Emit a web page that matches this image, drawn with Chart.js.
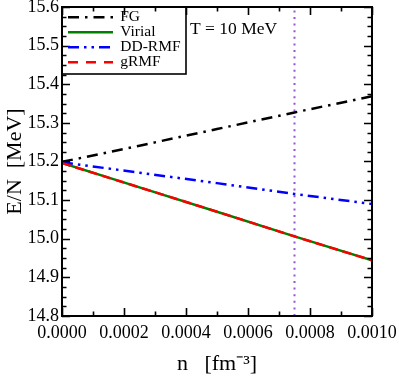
<!DOCTYPE html>
<html>
<head>
<meta charset="utf-8">
<script src="https://cdn.jsdelivr.net/npm/chart.js@4/dist/chart.umd.min.js"></script>
<style>
html,body{margin:0;padding:0;background:#fff;}
#wrap{width:399px;height:379px;}
</style>
</head>
<body>
<div id="wrap"><canvas id="c" width="399" height="379"></canvas></div>
<script>
// ---- data ----
const densities = [0, 0.00025, 0.0005, 0.00075, 0.001];
const fgValues = [15.199, 15.241, 15.284, 15.327, 15.369];
const virialValues = [15.196, 15.133, 15.070, 15.006, 14.944];
const ddrmfValues = [15.198, 15.171, 15.144, 15.116, 15.090];
const grmfValues = [15.196, 15.133, 15.070, 15.006, 14.944];
const markerDensity = 0.00075;
const yRange = [14.8, 15.6];
const xRange = [0, 0.001];
const seriesLabels = ['FG', 'Virial', 'DD-RMF', 'gRMF'];
const annotationText = 'T = 10 MeV';

const serif = "'Liberation Serif','Times New Roman',serif";
const legendFont = 15.5;
const legendPad = -0.5;
const rowStep = legendFont + legendPad;
const pts = (vals) => densities.map((x, i) => ({x: x, y: vals[i]}));

const tickPlugin = {
  id: 'frameTicks',
  afterLayout(chart) {
    const lg = chart.legend;
    const ca = chart.chartArea;
    lg.left = ca.left + 6;
    lg.top = ca.top + 3;
  },
  afterDraw(chart) {
    const ctx = chart.ctx;
    const ca = chart.chartArea;
    const xs = chart.scales.x, ys = chart.scales.y;
    ctx.save();
    ctx.strokeStyle = '#000';
    ctx.lineWidth = 1.6;
    for (let i = 0; i <= 10; i++) {
      const px = Math.round(xs.getPixelForValue(i * 0.0001)) + 0.5;
      const len = (i % 2 === 0) ? 8 : 4.5;
      ctx.beginPath();
      ctx.moveTo(px, ca.bottom); ctx.lineTo(px, ca.bottom - len);
      ctx.moveTo(px, ca.top); ctx.lineTo(px, ca.top + len);
      ctx.stroke();
    }
    for (let i = 0; i <= 32; i++) {
      const py = Math.round(ys.getPixelForValue(14.8 + i * 0.025)) + 0.5;
      const len = (i % 4 === 0) ? 8 : 4.5;
      ctx.beginPath();
      ctx.moveTo(ca.left, py); ctx.lineTo(ca.left + len, py);
      ctx.moveTo(ca.right, py); ctx.lineTo(ca.right - len, py);
      ctx.stroke();
    }
    ctx.lineWidth = 2;
    ctx.strokeRect(ca.left, ca.top, ca.right - ca.left, ca.bottom - ca.top);
    // legend samples (dashed), using each dataset's own style
    const lg = chart.legend;
    const items = lg.legendItems || [];
    items.forEach((it, k) => {
      const ds = chart.data.datasets[it.datasetIndex];
      const y = lg.top + legendPad + k * rowStep + legendFont / 2;
      ctx.beginPath();
      ctx.setLineDash(ds.legendDash || ds.borderDash || []);
      ctx.lineWidth = ds.borderWidth;
      ctx.strokeStyle = ds.borderColor;
      ctx.moveTo(lg.left, y);
      ctx.lineTo(lg.left + 45, y);
      ctx.stroke();
    });
    ctx.setLineDash([]);
    ctx.strokeStyle = '#000';
    ctx.lineWidth = 1.6;
    ctx.strokeRect(ca.left, ca.top, 186 - ca.left, 74 - ca.top);
    ctx.fillStyle = '#000';
    ctx.font = '17.5px ' + serif;
    ctx.textBaseline = 'alphabetic';
    ctx.fillText(annotationText, 190, 34);
    ctx.restore();
  }
};

new Chart(document.getElementById('c'), {
  type: 'line',
  data: {
    datasets: [
      {label: seriesLabels[0], data: pts(fgValues), borderColor: '#000', borderWidth: 2.5, borderDash: [11, 6, 2.5, 6], order: 3},
      {label: seriesLabels[1], data: pts(virialValues), borderColor: '#008000', borderWidth: 2.5, order: 2},
      {label: seriesLabels[2], data: pts(ddrmfValues), borderColor: '#0000ff', borderWidth: 2.5, borderDash: [11, 5, 2.5, 5, 2.5, 5], order: 1},
      {label: seriesLabels[3], data: pts(grmfValues), borderColor: '#ff0000', borderWidth: 2.5, borderDash: [9, 5], legendDash: [10, 8], order: 0},
      {label: '', data: [{x: markerDensity, y: yRange[0]}, {x: markerDensity, y: yRange[1]}], borderColor: 'rgb(150,85,215)', borderWidth: 2, borderDash: [2, 4.6], order: 4}
    ]
  },
  options: {
    responsive: false,
    animation: false,
    devicePixelRatio: 1,
    layout: {padding: {left: 0, right: 27, top: 7, bottom: 0}},
    elements: {point: {radius: 0}, line: {tension: 0, fill: false}},
    plugins: {
      tooltip: {enabled: false},
      legend: {
        position: 'chartArea',
        align: 'start',
        labels: {
          filter: (item) => item.text !== '',
          sort: (a, b) => a.datasetIndex - b.datasetIndex,
          generateLabels: (chart) => Chart.defaults.plugins.legend.labels.generateLabels(chart).map(l => Object.assign(l, {strokeStyle: 'rgba(0,0,0,0)', fillStyle: 'rgba(0,0,0,0)'})),
          usePointStyle: true,
          pointStyle: 'line',
          pointStyleWidth: 45,
          boxHeight: 6,
          padding: legendPad,
          color: '#000',
          font: {family: serif, size: legendFont, lineHeight: 1}
        }
      }
    },
    scales: {
      x: {
        type: 'linear',
        min: xRange[0], max: xRange[1],
        afterFit: (s) => { s.height = 63; s.paddingLeft = 0; s.paddingRight = 0; },
        grid: {display: false, drawTicks: false},
        border: {display: false},
        ticks: {
          stepSize: 0.0002,
          padding: 6,
          color: '#000',
          maxRotation: 0,
          font: {family: serif, size: 18},
          callback: (v) => Number(v).toFixed(4)
        },
        title: {display: true, text: 'n   [fm\u207B\u00B3]', color: '#000', font: {family: serif, size: 22}, padding: {top: 0, bottom: 2}}
      },
      y: {
        type: 'linear',
        min: yRange[0], max: yRange[1],
        afterFit: (s) => { s.width = 62; s.paddingTop = 0; s.paddingBottom = 0; },
        grid: {display: false, drawTicks: false},
        border: {display: false},
        ticks: {
          stepSize: 0.1,
          padding: 3,
          color: '#000',
          font: {family: serif, size: 18},
          callback: (v) => Number(v).toFixed(1)
        },
        title: {display: true, text: 'E/N  [MeV]', color: '#000', font: {family: serif, size: 22}, padding: {top: 2, bottom: 0}}
      }
    }
  },
  plugins: [tickPlugin]
});
</script>
</body>
</html>
